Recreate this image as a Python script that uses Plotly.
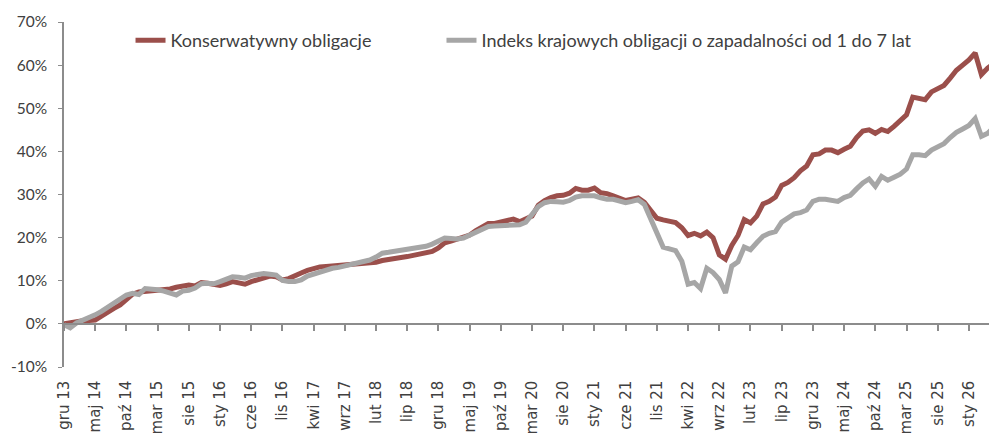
import plotly.graph_objects as go

tick_labels = ["gru 13", "maj 14", "paź 14", "mar 15", "sie 15", "sty 16", "cze 16", "lis 16",
               "kwi 17", "wrz 17", "lut 18", "lip 18", "gru 18", "maj 19", "paź 19", "mar 20",
               "sie 20", "sty 21", "cze 21", "lis 21", "kwi 22", "wrz 22", "lut 23", "lip 23",
               "gru 23", "maj 24", "paź 24", "mar 25", "sie 25", "sty 26"]

konserwatywny = [
    0.0, 0.3, 0.5, 0.7, 0.8, 0.9, 1.8, 2.8, 3.6, 4.4,
    5.6, 6.9, 7.4, 7.5, 7.6, 7.8, 8.0, 8.1, 8.5, 8.8,
    9.0, 8.8, 9.6, 9.4, 9.0, 8.9, 9.3, 9.8, 9.5, 9.2,
    9.8, 10.3, 10.9, 11.1, 10.9, 10.2, 10.5, 11.0, 11.8, 12.4,
    12.9, 13.2, 13.3, 13.4, 13.5, 13.6, 13.8, 13.9, 14.1, 14.0,
    14.3, 14.7, 15.0, 15.2, 15.4, 15.6, 15.9, 16.0, 16.3, 16.8,
    17.6, 18.8, 19.2, 19.6, 20.1, 20.6, 21.6, 22.4, 23.3, 23.3,
    23.6, 23.9, 24.3, 23.7, 24.3, 25.0, 27.5, 28.6, 29.3, 29.7,
    29.8, 30.3, 31.4, 31.0, 31.0, 31.5, 30.4, 30.2, 29.7, 29.1,
    28.6, 28.9, 29.2, 28.2, 26.2, 24.5, 24.1, 23.8, 23.5, 22.3,
    20.5, 21.0, 20.4, 21.3, 20.0, 16.0, 15.0, 18.2, 20.5, 24.2,
    23.4, 25.0, 27.8, 28.4, 29.4, 32.1, 32.8, 33.9, 35.5, 36.6,
    39.2, 39.4, 40.3, 40.3, 39.7, 40.5, 41.2, 43.2, 44.7, 45.0,
    44.2, 45.1, 44.6, 45.8, 47.1, 48.5, 52.6, 52.4, 52.0, 53.8,
    54.5, 55.3, 57.0, 58.8, 60.0, 61.2, 62.8, 57.8, 59.3, 60.4,
]

indeks = [
    -0.2, -0.9, 0.2, 0.8, 1.3, 2.1, 2.9, 3.9, 4.8, 5.8,
    6.7, 7.1, 6.8, 8.2, 8.1, 7.9, 7.6, 7.1, 6.7, 7.6,
    7.8, 8.3, 9.3, 9.4, 9.3, 9.8, 10.5, 10.9, 10.8, 10.6,
    11.2, 11.4, 11.7, 11.5, 11.3, 10.1, 9.8, 9.8, 10.2, 11.1,
    11.6, 12.1, 12.5, 12.9, 13.1, 13.4, 13.7, 14.0, 14.4, 14.8,
    15.5, 16.4, 16.6, 16.8, 17.0, 17.2, 17.5, 17.7, 18.0, 18.5,
    19.2, 19.9, 19.8, 19.7, 19.9, 20.6, 21.3, 22.0, 22.6, 22.7,
    22.8, 23.0, 23.0, 23.0, 23.6, 25.5, 27.2, 28.1, 28.4, 28.3,
    28.2, 28.6, 29.4, 29.7, 29.7, 29.7, 29.2, 28.9, 28.9, 28.5,
    28.1, 28.4, 28.8, 27.7, 24.3, 20.8, 17.8, 17.4, 17.0, 14.5,
    9.2, 9.6, 8.2, 12.9, 11.9, 10.3, 7.2, 13.4, 14.4, 17.8,
    17.2, 18.8, 20.3, 21.0, 21.4, 23.6, 24.7, 25.5, 25.8, 26.4,
    28.4, 28.9, 28.9, 28.7, 28.4, 29.3, 29.8, 31.3, 32.7, 33.6,
    31.9, 34.2, 33.3, 34.0, 34.7, 35.9, 39.2, 39.2, 39.0, 40.3,
    41.0, 41.8, 43.2, 44.4, 45.2, 46.0, 47.6, 43.5, 44.2, 45.6,
]

y_ticks = [-10, 0, 10, 20, 30, 40, 50, 60, 70]
y_tick_labels = ["-10%", "0%", "10%", "20%", "30%", "40%", "50%", "60%", "70%"]

months = list(range(len(konserwatywny)))
tick_pos = [5 * k for k in range(len(tick_labels))]

FONT = "Lato"
TXT = "#404040"
AX = "#8c8c8c"

fig = go.Figure()
fig.add_trace(go.Scatter(x=months, y=konserwatywny, mode="lines",
                         name="Konserwatywny obligacje", legend="legend",
                         line=dict(color="#9b4f4b", width=5)))
fig.add_trace(go.Scatter(x=months, y=indeks, mode="lines",
                         name="Indeks krajowych obligacji o zapadalności od 1 do 7 lat",
                         legend="legend2",
                         line=dict(color="#a6a6a6", width=5)))

xr = [0, 149.5]
leg_common = dict(orientation="h", y=0.946, xanchor="left", yanchor="middle",
                  font=dict(family=FONT, size=18, color=TXT), bgcolor="rgba(0,0,0,0)")
fig.update_layout(
    width=997, height=433,
    margin=dict(l=56, r=8, t=14, b=74, autoexpand=False),
    paper_bgcolor="white", plot_bgcolor="white",
    font=dict(family=FONT, size=16, color=TXT),
    showlegend=True,
    legend=dict(x=0.0713, **leg_common),
    legend2=dict(x=0.4046, **leg_common),
    # x axis crosses at 0 %, labels pushed down to the bottom of the chart
    xaxis=dict(range=xr, tickmode="array", tickvals=tick_pos, ticktext=tick_labels,
               anchor="free", position=0.125,
               tickangle=-90, ticks="outside", ticklen=6, tickcolor=AX, tickwidth=1.5,
               showline=True, linecolor=AX, linewidth=1.5, showgrid=False, zeroline=False,
               automargin=False, ticklabelstandoff=44,
               tickfont=dict(family="DejaVu Sans", size=15, color=TXT)),
    yaxis=dict(range=[-10, 70], tickmode="array", tickvals=y_ticks, ticktext=y_tick_labels,
               showgrid=False, zeroline=False, showline=True, linecolor=AX, linewidth=1.5,
               ticks="outside", ticklen=4, tickcolor=AX, ticklabelstandoff=8,
               automargin=False, tickfont=dict(size=15.5, color=TXT)),
)

fig.write_html("out.html")
